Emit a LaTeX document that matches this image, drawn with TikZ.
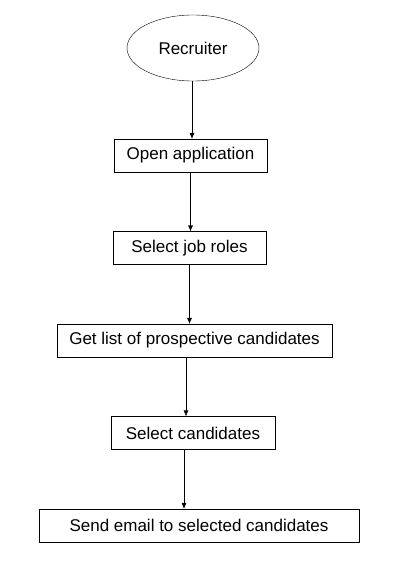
\documentclass[tikz,border=0pt]{standalone}
\usepackage{fontspec}
\setmainfont{Liberation Sans}
\usetikzlibrary{shapes.geometric, positioning, arrows.meta}

\begin{document}
\begin{tikzpicture}[x=1pt, y=1pt, node distance=92.5pt, on grid, auto,
    font=\fontsize{17}{20}\selectfont,
    actor/.style={ellipse, draw, thin, minimum width=132pt, minimum height=66pt, inner sep=0pt},
    stepbox/.style={rectangle, draw, thin, minimum height=33pt, inner sep=0pt},
    flow/.style={-{Latex[length=6pt, width=5pt]}, thin}]
   \useasboundingbox (0,0) rectangle (402,-565);

   \node[actor] (rec) at (193,-48) {Recruiter};
   \node[stepbox, minimum width=153pt] (open) [below=107.5pt of rec, xshift=-2.5pt] {Open application};
   \node[stepbox, minimum width=153pt] (roles) [below=of open, xshift=-1pt] {Select job roles};
   \node[stepbox, minimum width=275pt] (list) [below=of roles, xshift=5pt] {Get list of prospective candidates};
   \node[stepbox, minimum width=164pt] (pick) [below=of list, xshift=-1.5pt] {Select candidates};
   \node[stepbox, minimum width=320pt] (mail) [below=of pick, xshift=6pt] {Send email to selected candidates};

   \path[flow]
    ([xshift=-1pt]rec.south) edge ([xshift=-1pt]rec.south |- open.north)
    (open.south) edge (open.south |- roles.north)
    (roles.south) edge (roles.south |- list.north)
    ([xshift=-8.5pt]list.south) edge ([xshift=-8.5pt]list.south |- pick.north)
    ([xshift=-9pt]pick.south) edge ([xshift=-9pt]pick.south |- mail.north);
\end{tikzpicture}
\end{document}
